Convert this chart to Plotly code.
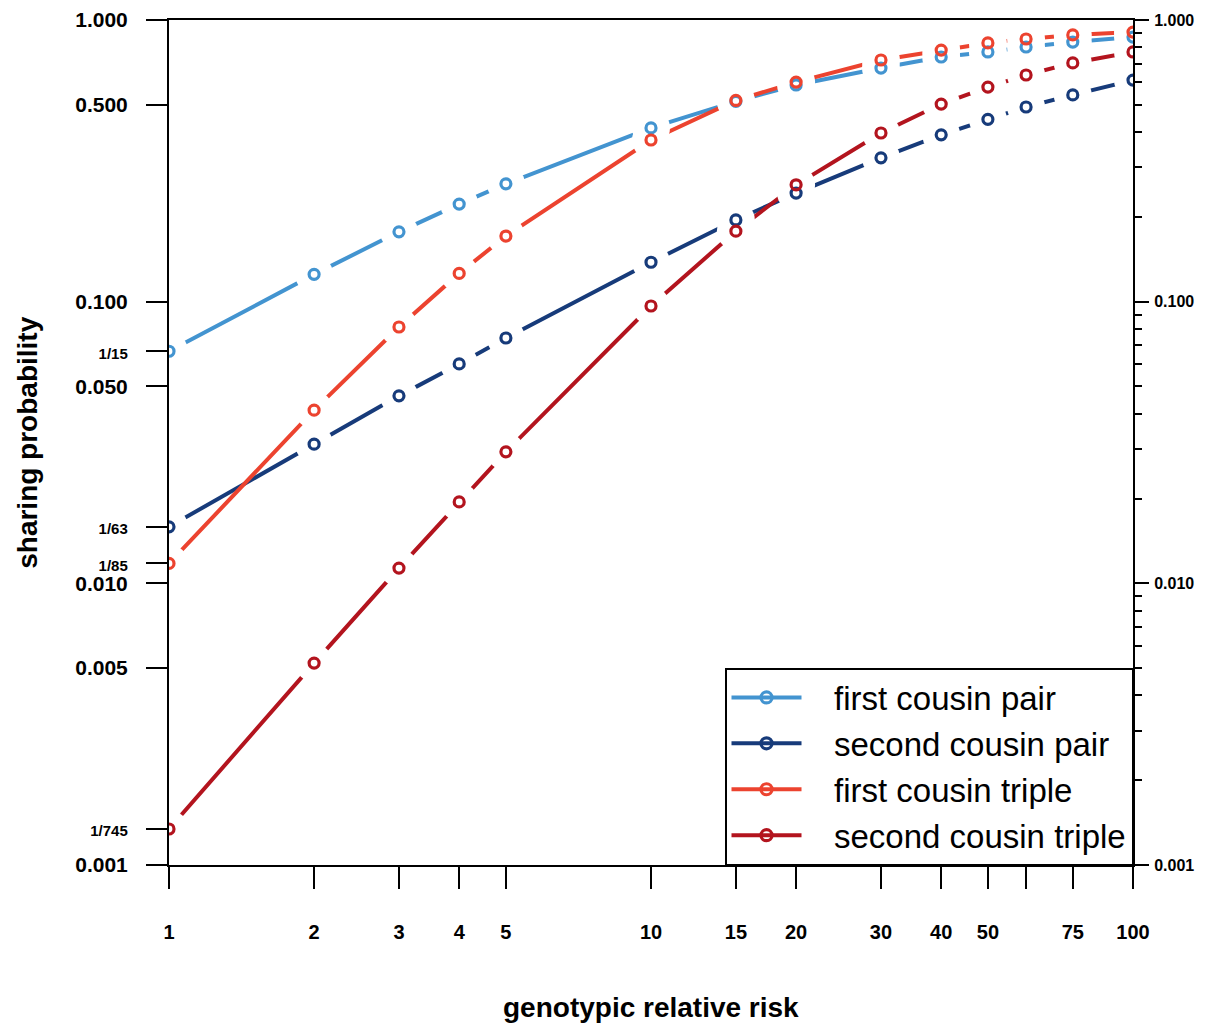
import plotly.graph_objects as go

# ---- data ----
grr = [1, 2, 3, 4, 5, 10, 15, 20, 30, 40, 50, 60, 75, 100]
first_cousin_pair = [1/15, 0.125, 0.177, 0.222, 0.262, 0.414, 0.514, 0.588, 0.675, 0.739, 0.770, 0.802, 0.835, 0.870]
second_cousin_pair = [1/63, 0.0312, 0.0463, 0.0601, 0.0743, 0.138, 0.195, 0.243, 0.324, 0.391, 0.444, 0.491, 0.542, 0.612]
first_cousin_triple = [1/85, 0.0412, 0.0813, 0.126, 0.171, 0.375, 0.518, 0.602, 0.721, 0.782, 0.829, 0.856, 0.885, 0.906]
second_cousin_triple = [1/745, 0.00521, 0.01133, 0.01945, 0.0293, 0.0965, 0.178, 0.260, 0.397, 0.503, 0.578, 0.638, 0.704, 0.770]

series_names = ["first cousin pair", "second cousin pair", "first cousin triple", "second cousin triple"]
series_vals = [first_cousin_pair, second_cousin_pair, first_cousin_triple, second_cousin_triple]
series_colors = ["#4394d0", "#173b7a", "#ec432f", "#b3141e"]

x_tickvals = [1, 2, 3, 4, 5, 10, 15, 20, 30, 40, 50, 60, 75, 100]
x_ticktext = ["1", "2", "3", "4", "5", "10", "15", "20", "30", "40", "50", "", "75", "100"]

y_tickvals = [1.0, 0.5, 0.1, 1/15, 0.05, 1/63, 1/85, 0.01, 0.005, 1/745, 0.001]
y_ticklabels = ["1.000", "0.500", "0.100", "1/15", "0.050", "1/63", "1/85", "0.010", "0.005", "1/745", "0.001"]
fraction_labels = {"1/15", "1/63", "1/85", "1/745"}

y2_tickvals = [1.0, 0.1, 0.01, 0.001]
y2_ticktext = ["1.000", "0.100", "0.010", "0.001"]
y2_minor = [m * d for d in (0.1, 0.01, 0.001) for m in range(2, 10)]

FONT = "Liberation Sans, Arial, Helvetica, sans-serif"
NBSP = "\u00a0"

y_ticktext = [
    f"<span style='font-size:15px'>{t}</span>" if t in fraction_labels else t
    for t in y_ticklabels
]

fig = go.Figure()

# lines
for name, vals, col in zip(series_names, series_vals, series_colors):
    fig.add_trace(go.Scatter(x=grr, y=vals, mode="lines",
                             line=dict(color=col, width=4),
                             showlegend=False, hoverinfo="skip"))
# white halos to create gaps around points
for vals in series_vals:
    fig.add_trace(go.Scatter(x=grr, y=vals, mode="markers",
                             marker=dict(size=38, color="white", line=dict(width=0)),
                             showlegend=False, hoverinfo="skip"))
# open circles
for name, vals, col in zip(series_names, series_vals, series_colors):
    fig.add_trace(go.Scatter(x=grr, y=vals, mode="markers", name=name,
                             marker=dict(symbol="circle-open", size=10, color=col,
                                         line=dict(width=3.2, color=col)),
                             showlegend=False))
# legend entries
for name, col in zip(series_names, series_colors):
    fig.add_trace(go.Scatter(x=[None], y=[None], mode="lines+markers",
                             name=NBSP * 3 + name,
                             line=dict(color=col, width=4),
                             marker=dict(symbol="circle-open", size=11, color=col,
                                         line=dict(width=3.2, color=col))))
# invisible trace to anchor the right-hand axis
fig.add_trace(go.Scatter(x=grr, y=first_cousin_pair, yaxis="y2", mode="markers",
                         marker=dict(opacity=0), showlegend=False, hoverinfo="skip"))

fig.update_layout(
    width=1197, height=1023,
    margin=dict(l=161, r=72, t=12, b=166, autoexpand=False),
    paper_bgcolor="white", plot_bgcolor="white",
    font=dict(family=FONT, color="black"),
    xaxis=dict(type="log", range=[0, 2], tickvals=x_tickvals, ticktext=x_ticktext,
               ticks="outside", ticklen=22, tickwidth=2, tickcolor="black",
               showline=True, linewidth=2, linecolor="black", mirror=True,
               showgrid=False, zeroline=False, ticklabelstandoff=26, automargin=False,
               tickfont=dict(size=20, family=FONT, weight="bold")),
    yaxis=dict(type="log", range=[-3, 0], tickvals=y_tickvals, ticktext=y_ticktext,
               ticks="outside", ticklen=21, tickwidth=2, tickcolor="black",
               showline=True, linewidth=2, linecolor="black",
               showgrid=False, zeroline=False, ticklabelstandoff=14, automargin=False,
               tickfont=dict(size=21, family=FONT, weight="bold")),
    yaxis2=dict(type="log", range=[-3, 0], overlaying="y", side="right",
                tickvals=y2_tickvals, ticktext=y2_ticktext,
                ticks="outside", ticklen=14, tickwidth=2, tickcolor="black",
                showline=True, linewidth=2, linecolor="black",
                showgrid=False, zeroline=False, ticklabelstandoff=2, automargin=False,
                minor=dict(tickvals=y2_minor, ticks="outside", ticklen=7,
                           tickwidth=1.5, tickcolor="black", showgrid=False),
                tickfont=dict(size=16, family=FONT, weight="bold")),
    legend=dict(x=1, xanchor="right", y=0, yanchor="bottom",
                bordercolor="black", borderwidth=1.5, bgcolor="white",
                font=dict(size=33, family=FONT), itemwidth=70,
                tracegroupgap=0),
    annotations=[
        dict(text="sharing probability", textangle=-90, x=-0.147, y=0.5,
             xref="paper", yref="paper", showarrow=False,
             xanchor="center", yanchor="middle",
             font=dict(size=28, family=FONT, weight="bold")),
        dict(text="genotypic relative risk", x=0.5, y=-0.169,
             xref="paper", yref="paper", showarrow=False,
             xanchor="center", yanchor="middle",
             font=dict(size=28, family=FONT, weight="bold")),
    ],
)

fig.write_html("out.html")
